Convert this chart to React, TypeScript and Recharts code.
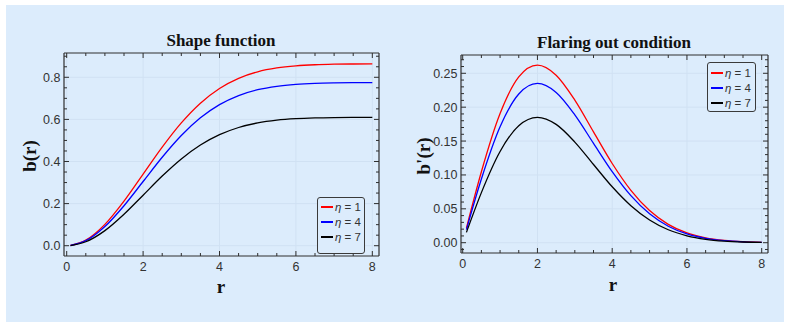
import React from 'react';
import { LineChart, Line, XAxis, YAxis, ReferenceLine } from 'recharts';

// radial coordinate r
const rValues = [0.1, 0.5, 1, 1.5, 2, 2.5, 3, 3.5, 4, 4.5, 5, 5.5, 6, 6.5, 7, 7.5, 8];

// shape function b(r)
const shapeEta1 = [0.0011, 0.0266, 0.1015, 0.2118, 0.34, 0.4684, 0.5835, 0.6772, 0.7471, 0.7953, 0.826, 0.8443, 0.8544, 0.8596, 0.8621, 0.8632, 0.8637];
const shapeEta4 = [0.001, 0.0238, 0.0911, 0.19, 0.3049, 0.4202, 0.5234, 0.6074, 0.6701, 0.7133, 0.7409, 0.7573, 0.7664, 0.7711, 0.7733, 0.7743, 0.7747];
const shapeEta7 = [0.0008, 0.0188, 0.0717, 0.1495, 0.24, 0.3307, 0.412, 0.4781, 0.5274, 0.5615, 0.5832, 0.5961, 0.6032, 0.6069, 0.6087, 0.6095, 0.6098];

// flaring out condition b'(r)
const flareEta1 = [0.0216, 0.1047, 0.1906, 0.2446, 0.262, 0.2472, 0.2104, 0.1635, 0.1169, 0.0773, 0.0475, 0.0271, 0.0144, 0.0071, 0.0033, 0.0014, 0.0006];
const flareEta4 = [0.0194, 0.0939, 0.171, 0.2194, 0.235, 0.2218, 0.1887, 0.1466, 0.1049, 0.0694, 0.0426, 0.0243, 0.0129, 0.0064, 0.003, 0.0013, 0.0005];
const flareEta7 = [0.0152, 0.0739, 0.1346, 0.1727, 0.185, 0.1746, 0.1485, 0.1154, 0.0825, 0.0546, 0.0335, 0.0191, 0.0102, 0.005, 0.0023, 0.001, 0.0004];

const etaLabels = ['1', '4', '7'];
const seriesColors = ['#ff0000', '#0000ff', '#000000'];

const xMajorTicks = [0, 2, 4, 6, 8];
const xAllTicks = [0, 0.5, 1, 1.5, 2, 2.5, 3, 3.5, 4, 4.5, 5, 5.5, 6, 6.5, 7, 7.5, 8];
const shapeYMajor = [0, 0.2, 0.4, 0.6, 0.8];
const shapeYAll = [0, 0.05, 0.1, 0.15, 0.2, 0.25, 0.3, 0.35, 0.4, 0.45, 0.5, 0.55, 0.6, 0.65, 0.7, 0.75, 0.8, 0.85, 0.9];
const flareYMajor = [0, 0.05, 0.1, 0.15, 0.2, 0.25];
const flareYAll = [-0.01, 0, 0.01, 0.02, 0.03, 0.04, 0.05, 0.06, 0.07, 0.08, 0.09, 0.1, 0.11, 0.12, 0.13, 0.14, 0.15, 0.16, 0.17, 0.18, 0.19, 0.2, 0.21, 0.22, 0.23, 0.24, 0.25, 0.26, 0.27];

const shapeData = rValues.map((r, i) => ({ r, s1: shapeEta1[i], s4: shapeEta4[i], s7: shapeEta7[i] }));
const flareData = rValues.map((r, i) => ({ r, f1: flareEta1[i], f4: flareEta4[i], f7: flareEta7[i] }));

const FRAME = '#2e2e2e';
const GRID = '#d0e1f3';
const BG = '#dcecfc';
const TICK_FONT = "'Liberation Sans', Arial, sans-serif";
const SERIF = "'Liberation Serif', 'Times New Roman', serif";

const isIn = (arr: number[], v: number) => arr.some((m) => Math.abs(m - v) < 1e-9);

const makeTick = (side: string, majors: number[], fmt: ((v: number) => string) | null) => (props: any) => {
  const { x, y, payload } = props;
  const v = payload.value;
  const major = isIn(majors, v);
  const len = major ? 5 : 3;
  let line = null;
  let label = null;
  if (side === 'bottom') {
    line = <line x1={x} y1={y} x2={x} y2={y - len} stroke={FRAME} strokeWidth={1} />;
    if (major && fmt) label = <text x={x} y={y + 15} textAnchor="middle" fontFamily={TICK_FONT} fontSize={12.5} fill="#333">{fmt(v)}</text>;
  } else if (side === 'top') {
    line = <line x1={x} y1={y} x2={x} y2={y + len} stroke={FRAME} strokeWidth={1} />;
  } else if (side === 'left') {
    line = <line x1={x} y1={y} x2={x + len} y2={y} stroke={FRAME} strokeWidth={1} />;
    if (major && fmt) label = <text x={x - 3.5} y={y} dy="0.36em" textAnchor="end" fontFamily={TICK_FONT} fontSize={12.5} fill="#333">{fmt(v)}</text>;
  } else {
    line = <line x1={x} y1={y} x2={x - len} y2={y} stroke={FRAME} strokeWidth={1} />;
  }
  return <g>{line}{label}</g>;
};

type PanelProps = {
  data: any[];
  keys: string[];
  left: number;
  margin: { top: number; right: number; bottom: number; left: number };
  xDomain: [number, number];
  yDomain: [number, number];
  yMajor: number[];
  yAll: number[];
  yFmt: (v: number) => string;
};

const Panel = ({ data, keys, left, margin, xDomain, yDomain, yMajor, yAll, yFmt }: PanelProps) => (
  <div style={{ position: 'absolute', left, top: 0 }}>
    <LineChart width={395} height={327} data={data} margin={margin}>
      <XAxis dataKey="r" type="number" domain={xDomain} allowDataOverflow ticks={xAllTicks} interval={0}
        height={1} tickSize={0} tickMargin={0} tickLine={false}
        axisLine={{ stroke: FRAME, strokeWidth: 1.2 }} tick={makeTick('bottom', xMajorTicks, (v) => String(v))} />
      <XAxis xAxisId="top" orientation="top" dataKey="r" type="number" domain={xDomain} allowDataOverflow ticks={xAllTicks} interval={0}
        height={1} tickSize={0} tickMargin={0} tickLine={false}
        axisLine={{ stroke: FRAME, strokeWidth: 1.2 }} tick={makeTick('top', xMajorTicks, null)} />
      <YAxis type="number" domain={yDomain} allowDataOverflow ticks={yAll} interval={0}
        width={1} tickSize={0} tickMargin={0} tickLine={false}
        axisLine={{ stroke: FRAME, strokeWidth: 1.2 }} tick={makeTick('left', yMajor, yFmt)} />
      <YAxis yAxisId="right" orientation="right" type="number" domain={yDomain} allowDataOverflow ticks={yAll} interval={0}
        width={1} tickSize={0} tickMargin={0} tickLine={false}
        axisLine={{ stroke: FRAME, strokeWidth: 1.2 }} tick={makeTick('right', yMajor, null)} />
      {xMajorTicks.map((v) => (
        <ReferenceLine key={'gx' + v} x={v} stroke={GRID} strokeWidth={1} />
      ))}
      {yMajor.map((v) => (
        <ReferenceLine key={'gy' + v} y={v} stroke={GRID} strokeWidth={1} />
      ))}
      {keys.map((k, i) => (
        <Line key={k} type="monotone" dataKey={k} stroke={seriesColors[i]} strokeWidth={1.3} dot={false} isAnimationActive={false} />
      ))}
    </LineChart>
  </div>
);

const LegendBox = ({ left, top, width, height, padTop }: { left: number; top: number; width: number; height: number; padTop: number }) => (
  <div style={{ position: 'absolute', left, top, width, height, boxSizing: 'border-box', border: '1px solid #3a3a3a', borderRadius: 3, background: BG, paddingTop: padTop }}>
    {etaLabels.map((e, i) => (
      <div key={e} style={{ display: 'flex', alignItems: 'center', height: 15, fontFamily: TICK_FONT, fontSize: 11.5, color: '#333', whiteSpace: 'nowrap' }}>
        <span style={{ display: 'inline-block', width: 12, height: 0, borderTop: `2px solid ${seriesColors[i]}`, marginLeft: 3, marginRight: 2 }} />
        <span><i>η</i> = {e}</span>
      </div>
    ))}
  </div>
);

export default function App() {
  return (
    <div style={{ position: 'absolute', left: 0, top: 0, width: 790, height: 327, background: '#fff' }}>
      <div style={{ position: 'absolute', left: 6, top: 5, width: 778, height: 317, background: BG }} />
      <svg width={790} height={327} style={{ position: 'absolute', left: 0, top: 0 }}>
        <text x={221} y={45.5} textAnchor="middle" fontFamily={SERIF} fontWeight="bold" fontSize={17} fill="#111">Shape function</text>
        <text x={614} y={48} textAnchor="middle" fontFamily={SERIF} fontWeight="bold" fontSize={17} fill="#111">Flaring out condition</text>
        <text transform="translate(36,156) rotate(-90)" textAnchor="middle" fontFamily={SERIF} fontWeight="bold" fontSize={19} fill="#111">b(r)</text>
        <text transform="translate(429.5,156) rotate(-90)" textAnchor="middle" fontFamily={SERIF} fontWeight="bold" fontSize={19} fill="#111">b'(r)</text>
        <text x={221} y={293} textAnchor="middle" fontFamily={SERIF} fontWeight="bold" fontSize={19} fill="#111">r</text>
        <text x={613} y={291} textAnchor="middle" fontFamily={SERIF} fontWeight="bold" fontSize={19} fill="#111">r</text>
      </svg>
      <Panel data={shapeData} keys={['s1', 's4', 's7']} left={0}
        margin={{ top: 52, right: 15, bottom: 70, left: 63 }}
        xDomain={[-0.0707, 8.175]} yDomain={[-0.0489, 0.9154]}
        yMajor={shapeYMajor} yAll={shapeYAll} yFmt={(v) => v.toFixed(1)} />
      <Panel data={flareData} keys={['f1', 'f4', 'f7']} left={395}
        margin={{ top: 54, right: 21, bottom: 73, left: 65 }}
        xDomain={[-0.0455, 8.1686]} yDomain={[-0.0152, 0.277]}
        yMajor={flareYMajor} yAll={flareYAll} yFmt={(v) => v.toFixed(2)} />
      <LegendBox left={317} top={197} width={48} height={57} padTop={1} />
      <LegendBox left={707} top={62} width={49} height={50} padTop={2} />
    </div>
  );
}
